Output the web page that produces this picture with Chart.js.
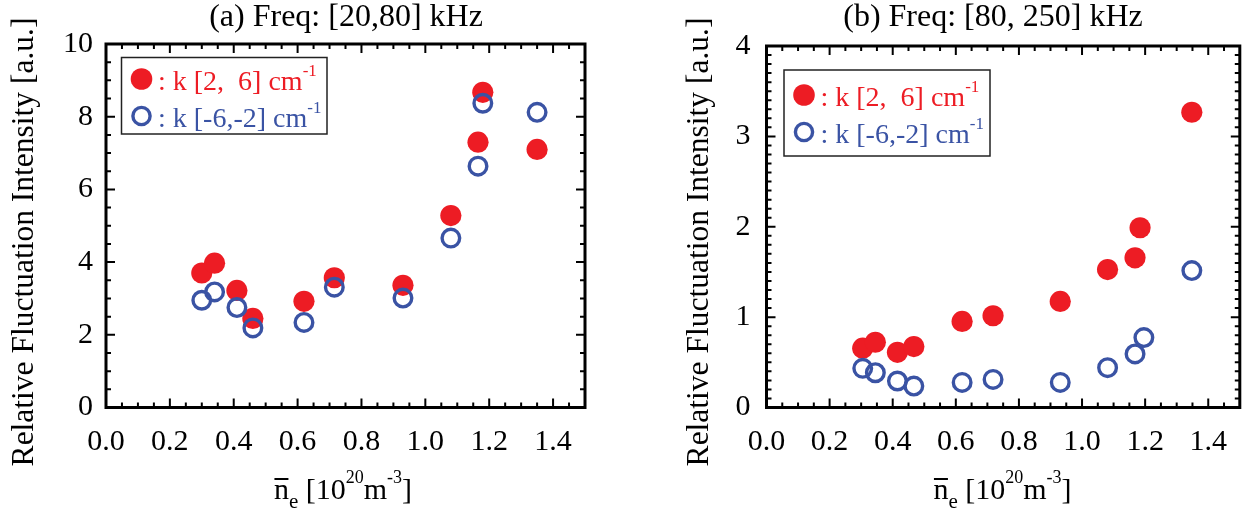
<!DOCTYPE html>
<html>
<head>
<meta charset="utf-8">
<title>Relative fluctuation intensity vs density</title>
<script src="https://cdn.jsdelivr.net/npm/chart.js@4.4.1/dist/chart.umd.min.js"></script>
<style>
  html, body { margin: 0; padding: 0; background: #fff; }
  #wrap { position: relative; width: 1252px; height: 513px; overflow: hidden; }
  .panel { position: absolute; top: 0; height: 513px; }
  #panelA { left: 0; width: 640px; }
  #panelB { left: 640px; width: 612px; }
</style>
</head>
<body>
<div id="wrap">
  <div class="panel" id="panelA"><canvas id="chartA"></canvas></div>
  <div class="panel" id="panelB"><canvas id="chartB"></canvas></div>
</div>
<script>
// --- data ---
const densityA = [0.30, 0.34, 0.41, 0.46, 0.62, 0.715, 0.93, 1.08, 1.165, 1.18, 1.35];
const densityB = [0.305, 0.345, 0.415, 0.467, 0.62, 0.718, 0.931, 1.081, 1.168, 1.184, 1.348];
const densityBOpen = [0.305, 0.345, 0.415, 0.467, 0.62, 0.718, 0.931, 1.081, 1.168, 1.196, 1.348];

// (a) Freq: [20,80] kHz
const posA = [3.70, 3.97, 3.22, 2.45, 2.92, 3.57, 3.36, 5.28, 7.30, 8.67, 7.10];
const negA = [2.95, 3.18, 2.75, 2.19, 2.34, 3.31, 3.01, 4.66, 6.64, 8.37, 8.12];
// (b) Freq: [80, 250] kHz
const posB = [0.656, 0.722, 0.611, 0.674, 0.952, 1.015, 1.174, 1.526, 1.656, 1.989, 3.267];
const negB = [0.433, 0.385, 0.293, 0.237, 0.278, 0.311, 0.278, 0.441, 0.593, 0.774, 1.515];

const xTicksStep = 0.2;
const yTicksStepA = 2;
const yTicksStepB = 1;

const SERIF = "'Liberation Serif', 'Times New Roman', serif";
const RED = '#ed1c24';
const BLUE = '#3a53a4';

Chart.defaults.font.family = SERIF;
Chart.defaults.color = '#000';

// draw a run of text pieces (for sub/superscripts), returns the pieces with x positions
function drawRich(ctx, parts, x, y, align) {
    let total = 0;
    parts.forEach(p => {
        ctx.font = p.size + 'px ' + SERIF;
        p.w = ctx.measureText(p.t).width;
        total += p.w;
    });
    let cx = align === 'center' ? x - total / 2 : x;
    parts.forEach(p => {
        ctx.font = p.size + 'px ' + SERIF;
        ctx.fillText(p.t, cx, y + (p.dy || 0));
        p.x = cx;
        cx += p.w;
    });
    return parts;
}

function drawTicks(ctx, scale, a, minor, major, horizontal) {
    const n = Math.round((scale.max - scale.min) / minor);
    ctx.lineWidth = 2;
    for (let i = 1; i < n; i++) {
        const v = scale.min + i * minor;
        const isMajor = Math.abs(v / major - Math.round(v / major)) < 1e-6;
        const len = isMajor ? 9 : 5;
        const p = scale.getPixelForValue(v);
        ctx.beginPath();
        if (horizontal) {
            ctx.moveTo(p, a.bottom); ctx.lineTo(p, a.bottom - len);
            ctx.moveTo(p, a.top); ctx.lineTo(p, a.top + len);
        } else {
            ctx.moveTo(a.left, p); ctx.lineTo(a.left + len, p);
            ctx.moveTo(a.right, p); ctx.lineTo(a.right - len, p);
        }
        ctx.stroke();
    }
}

// frame, inward ticks, titles and the boxed legend
const decorPlugin = {
    id: 'decor',
    beforeDatasetsDraw(chart, args, o) {
        const { ctx, chartArea: a, scales } = chart;
        ctx.save();
        ctx.strokeStyle = '#000';
        drawTicks(ctx, scales.x, a, o.xMinor, o.xMajor, true);
        drawTicks(ctx, scales.y, a, o.yMinor, o.yMajor, false);
        ctx.lineWidth = 3;
        ctx.strokeRect(a.left, a.top, a.right - a.left, a.bottom - a.top);
        ctx.restore();
    },
    afterDraw(chart, args, o) {
        const { ctx } = chart;
        ctx.save();
        ctx.fillStyle = '#000';
        ctx.textBaseline = 'alphabetic';

        // panel title
        ctx.textAlign = 'center';
        ctx.font = '32px ' + SERIF;
        ctx.fillText(o.title, o.titleX, 26);

        // y axis title
        ctx.save();
        ctx.translate(o.yTitleX, 242);
        ctx.rotate(-Math.PI / 2);
        ctx.textBaseline = 'middle';
        ctx.font = '31.5px ' + SERIF;
        ctx.fillText('Relative Fluctuation Intensity [a.u.]', 0, 0);
        ctx.restore();

        // x axis title: n-bar_e [10^20 m^-3]
        ctx.textAlign = 'left';
        const xt = drawRich(ctx, [
            { t: 'n', size: 30 },
            { t: 'e', size: 21, dy: 9 },
            { t: ' [10', size: 30 },
            { t: '20', size: 18, dy: -16 },
            { t: 'm', size: 30 },
            { t: '-3', size: 18, dy: -16 },
            { t: ']', size: 30 }
        ], o.xTitleX, 499, 'center');
        ctx.strokeStyle = '#000';
        ctx.lineWidth = 2;
        ctx.beginPath();
        ctx.moveTo(xt[0].x + 0.5, 479);
        ctx.lineTo(xt[0].x + xt[0].w - 0.5, 479);
        ctx.stroke();

        // legend box
        const b = o.legendBox;
        ctx.fillStyle = '#fff';
        ctx.fillRect(b[0], b[1], b[2], b[3]);
        ctx.strokeStyle = '#222';
        ctx.lineWidth = 1.5;
        ctx.strokeRect(b[0], b[1], b[2], b[3]);

        // filled marker row
        ctx.fillStyle = RED;
        ctx.beginPath();
        ctx.arc(o.legendMarkerX, o.legendRows[0], 10.8, 0, Math.PI * 2);
        ctx.fill();
        drawRich(ctx, [
            { t: ': k [2,  6] cm', size: 28 },
            { t: '-1', size: 17, dy: -14 }
        ], o.legendTextX, o.legendRows[0] + 11, 'left');

        // open marker row
        ctx.strokeStyle = BLUE;
        ctx.lineWidth = 3.4;
        ctx.beginPath();
        ctx.arc(o.legendMarkerX, o.legendRows[1], 8.6, 0, Math.PI * 2);
        ctx.stroke();
        ctx.fillStyle = BLUE;
        drawRich(ctx, [
            { t: ': k [-6,-2] cm', size: 28 },
            { t: '-1', size: 17, dy: -14 }
        ], o.legendTextX, o.legendRows[1] + 11, 'left');

        ctx.restore();
    }
};

function pairs(xs, ys) {
    return xs.map((x, i) => ({ x: x, y: ys[i] }));
}

function makeChart(canvasId, cfg) {
    const ctx = document.getElementById(canvasId).getContext('2d');
    return new Chart(ctx, {
        type: 'scatter',
        data: {
            datasets: [
                {
                    label: 'k [-6,-2] cm-1',
                    data: pairs(cfg.xOpen, cfg.open),
                    pointStyle: 'circle',
                    pointRadius: 8.8,
                    pointBorderWidth: 3.4,
                    pointBorderColor: BLUE,
                    pointBackgroundColor: 'rgba(0,0,0,0)',
                    order: 0
                },
                {
                    label: 'k [2, 6] cm-1',
                    data: pairs(cfg.xFilled, cfg.filled),
                    pointStyle: 'circle',
                    pointRadius: 10.6,
                    pointBorderWidth: 0,
                    pointBackgroundColor: RED,
                    order: 1
                }
            ]
        },
        options: {
            responsive: true,
            maintainAspectRatio: false,
            animation: false,
            devicePixelRatio: 1,
            layout: { padding: { top: cfg.padTop, right: cfg.padRight, left: 0, bottom: 0 } },
            plugins: {
                legend: { display: false },
                tooltip: { enabled: false },
                decor: cfg.decor
            },
            scales: {
                x: {
                    type: 'linear',
                    min: 0, max: 1.5,
                    grid: { display: false, drawTicks: false },
                    border: { display: false },
                    ticks: {
                        stepSize: xTicksStep,
                        includeBounds: false,
                        autoSkip: false,
                        maxRotation: 0,
                        padding: 17,
                        font: { size: 30 },
                        color: '#000',
                        callback: v => v.toFixed(1)
                    },
                    afterFit: s => { s.height = 105.5; }
                },
                y: {
                    type: 'linear',
                    min: 0, max: cfg.yMax,
                    grid: { display: false, drawTicks: false },
                    border: { display: false },
                    ticks: {
                        stepSize: cfg.yStep,
                        padding: cfg.yPad,
                        font: { size: 30 },
                        color: '#000',
                        callback: v => String(v)
                    },
                    afterFit: s => { s.width = cfg.yWidth; }
                }
            }
        },
        plugins: [decorPlugin]
    });
}

makeChart('chartA', {
    xFilled: densityA, filled: posA,
    xOpen: densityA, open: negA,
    yMax: 10, yStep: yTicksStepA, yPad: 13, yWidth: 106,
    padTop: 44, padRight: 55,
    decor: {
        title: '(a) Freq: [20,80] kHz', titleX: 346,
        yTitleX: 25, xTitleX: 343,
        xMinor: 0.05, xMajor: 0.2, yMinor: 0.5, yMajor: 2,
        legendBox: [121.5, 57.5, 205.5, 76.5],
        legendRows: [79, 116], legendMarkerX: 141.5, legendTextX: 158
    }
});

makeChart('chartB', {
    xFilled: densityB, filled: posB,
    xOpen: densityBOpen, open: negB,
    yMax: 4, yStep: yTicksStepB, yPad: 16, yWidth: 126.5,
    padTop: 46, padRight: 9,
    decor: {
        title: '(b) Freq: [80, 250] kHz', titleX: 353,
        yTitleX: 60, xTitleX: 362.5,
        xMinor: 0.05, xMajor: 0.2, yMinor: 0.1, yMajor: 1,
        legendBox: [144, 70, 206, 86],
        legendRows: [95, 132], legendMarkerX: 164, legendTextX: 180.5
    }
});
</script>
</body>
</html>
